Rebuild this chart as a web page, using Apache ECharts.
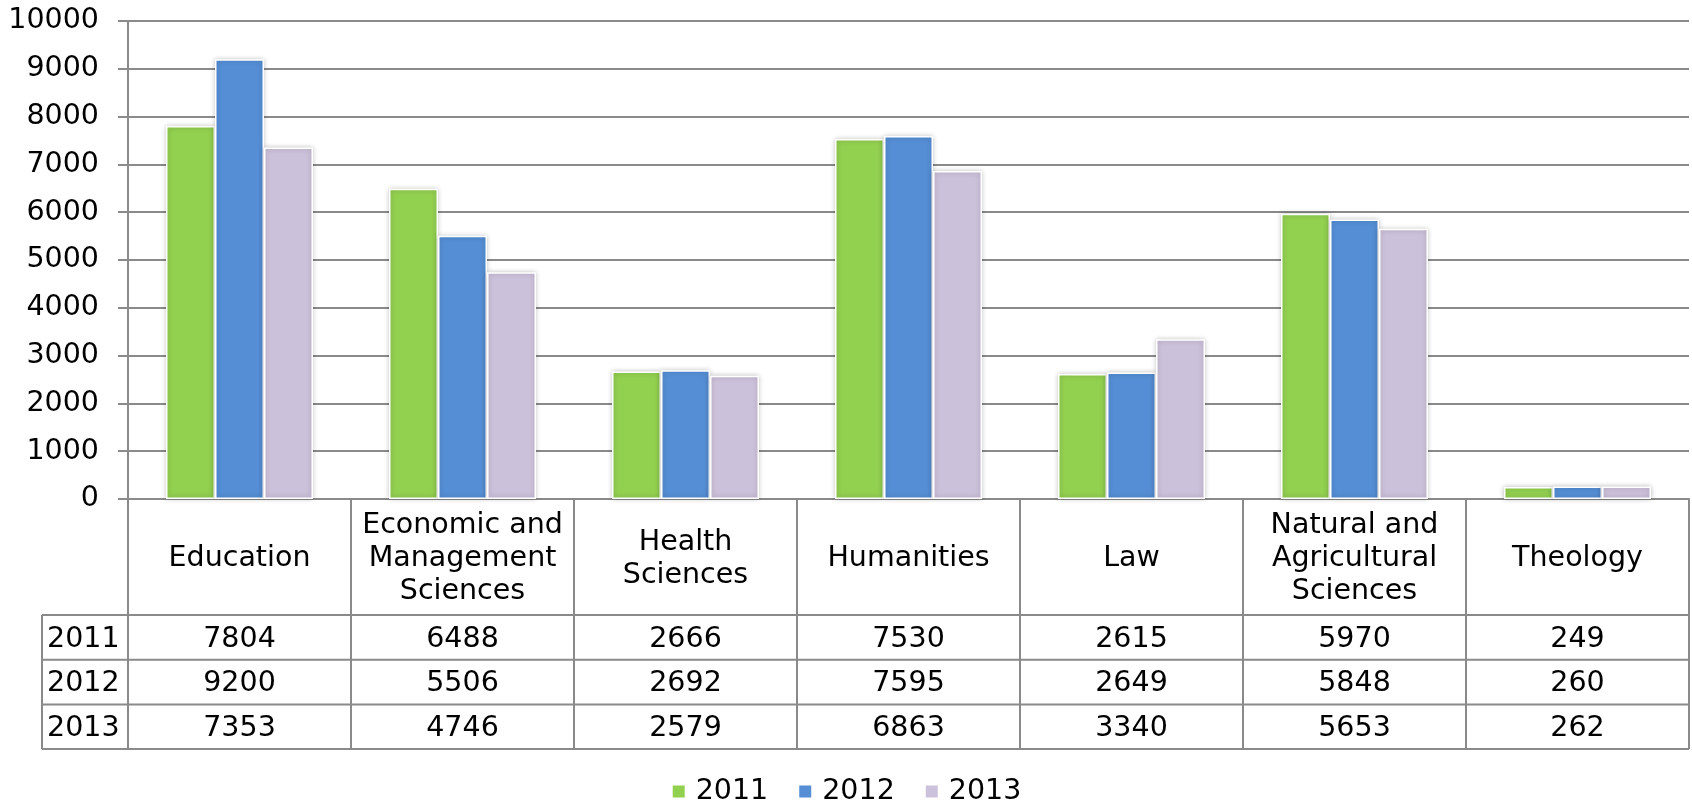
<!DOCTYPE html>
<html>
<head>
<meta charset="utf-8">
<script src="https://cdn.jsdelivr.net/npm/echarts@6/dist/echarts.min.js"></script>
<style>
  html, body { margin: 0; padding: 0; background: #fff; }
  #chart { width: 1692px; height: 800px; }
</style>
</head>
<body>
<div id="chart"></div>
<script>
// Faculty categories (line breaks as shown in the table header)
const categories = [
  'Education',
  'Economic and\nManagement\nSciences',
  'Health\nSciences',
  'Humanities',
  'Law',
  'Natural and\nAgricultural\nSciences',
  'Theology'
];
const years = ['2011', '2012', '2013'];
const values2011 = [7804, 6488, 2666, 7530, 2615, 5970, 249];
const values2012 = [9200, 5506, 2692, 7595, 2649, 5848, 260];
const values2013 = [7353, 4746, 2579, 6863, 3340, 5653, 262];
const yTicks = [0, 1000, 2000, 3000, 4000, 5000, 6000, 7000, 8000, 9000, 10000];

const seriesValues = [values2011, values2012, values2013];
const colors = ['#92D050', '#558ED5', '#CCC1DA'];

const FONT = 'DejaVu Sans, Verdana, sans-serif';
const FS = 28.5;
const LINE = '#8a8a8a';
const W = 1692, H = 800;
const grid = { left: 128, top: 21, right: 3, bottom: 301 };
const axisY = H - grid.bottom;          // category axis baseline
const headerH = 116;                    // category header cell height
const rowH = 44.7;                      // data table row height
const tableLeft = 42;                   // left edge of the year column
const tableRight = W - grid.right;
const textNudge = 2;                    // optical centring of table text

const rowLines = [0, 1, 2, 3].map(i => axisY + headerH + i * rowH);

// data-table rows drawn as extra category axes below the plot
const tableAxes = seriesValues.map((vals, r) => ({
  type: 'category',
  data: categories,
  position: 'bottom',
  offset: headerH + rowH * (r + 0.5) + textNudge,
  axisLine: { show: false },
  axisTick: { show: false },
  axisLabel: {
    interval: 0,
    margin: 0,
    verticalAlign: 'middle',
    fontFamily: FONT,
    fontSize: FS,
    color: '#000',
    formatter: (v, i) => String(vals[i])
  }
}));

const graphics = [];
rowLines.forEach(y => {
  graphics.push({
    type: 'line',
    shape: { x1: tableLeft, y1: y, x2: tableRight, y2: y },
    style: { stroke: LINE, lineWidth: 2 },
    silent: true
  });
});
graphics.push({
  type: 'line',
  shape: { x1: tableLeft, y1: rowLines[0], x2: tableLeft, y2: rowLines[3] },
  style: { stroke: LINE, lineWidth: 2 },
  silent: true
});
years.forEach((yr, r) => {
  graphics.push({
    type: 'text',
    x: tableLeft + 5,
    y: axisY + headerH + rowH * (r + 0.5) + textNudge,
    style: {
      text: yr,
      fontFamily: FONT,
      fontSize: FS,
      fill: '#000',
      align: 'left',
      verticalAlign: 'middle'
    },
    silent: true
  });
});

const chart = echarts.init(document.getElementById('chart'), null, { renderer: 'canvas' });

chart.setOption({
  animation: false,
  backgroundColor: '#fff',
  grid: grid,
  legend: {
    data: years,
    top: 772,
    left: 'center',
    icon: 'rect',
    itemWidth: 14,
    itemHeight: 14,
    itemGap: 29,
    textStyle: { fontFamily: FONT, fontSize: FS, color: '#000', padding: [0, 0, 0, 5] }
  },
  xAxis: [
    {
      type: 'category',
      data: categories,
      position: 'bottom',
      axisLine: { show: true, lineStyle: { color: LINE, width: 2 } },
      axisTick: {
        show: true,
        interval: 0,
        length: rowLines[3] - axisY,
        lineStyle: { color: LINE, width: 2 }
      },
      axisLabel: {
        interval: 0,
        margin: headerH / 2 + textNudge,
        verticalAlign: 'middle',
        align: 'center',
        fontFamily: FONT,
        fontSize: FS,
        lineHeight: 33,
        color: '#000'
      }
    }
  ].concat(tableAxes),
  yAxis: {
    type: 'value',
    min: yTicks[0],
    max: yTicks[yTicks.length - 1],
    interval: yTicks[1] - yTicks[0],
    axisLine: { show: true, lineStyle: { color: LINE, width: 2 } },
    axisTick: { show: true, length: 10, lineStyle: { color: LINE, width: 2 } },
    splitLine: { show: true, lineStyle: { color: LINE, width: 2 } },
    axisLabel: {
      margin: 29,
      fontFamily: FONT,
      fontSize: FS,
      color: '#000',
      formatter: v => String(v)
    }
  },
  series: years.map((yr, k) => ({
    name: yr,
    type: 'bar',
    data: seriesValues[k],
    barWidth: 49,
    barGap: '0%',
    itemStyle: {
      color: colors[k],
      borderColor: '#fff',
      borderWidth: 1.5,
      shadowBlur: 5,
      shadowColor: 'rgba(0,0,0,0.25)',
      shadowOffsetX: 0,
      shadowOffsetY: 0
    }
  })),
  graphic: graphics
});
</script>
</body>
</html>
